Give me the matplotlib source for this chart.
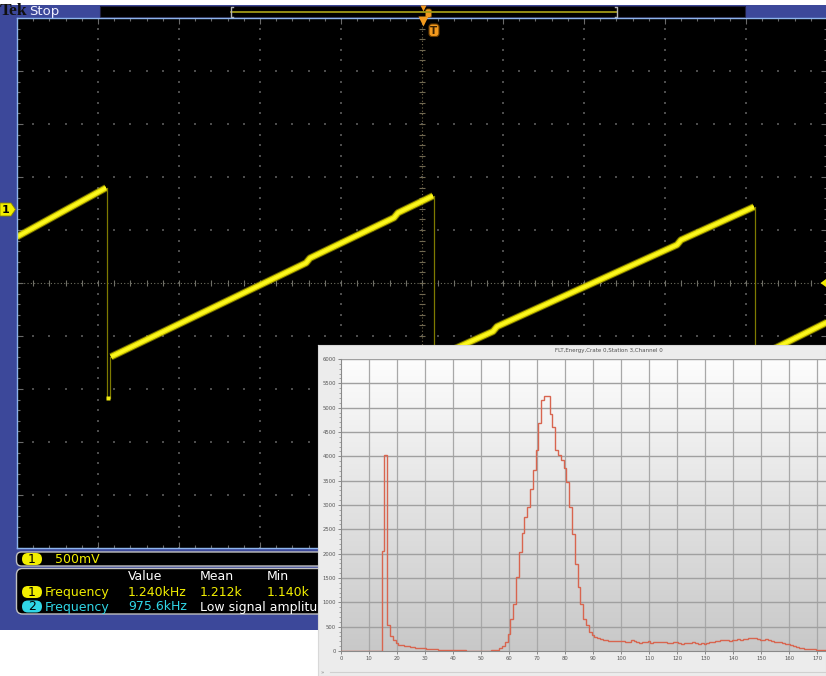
import numpy as np
import matplotlib
matplotlib.use("Agg")
import matplotlib.pyplot as plt
import matplotlib.patches as patches
from matplotlib.colors import LinearSegmentedColormap

# ---- scope trace: time in us (200 us/div), volts vs ch1 ground (500 mV/div)
ramp_t = [
    [0.0, 219.8],
    [232.1, 713.6, 723.5, 930.9, 940.7, 1027.2],
    [1037.0, 1175.3, 1185.2, 1629.6, 1639.5, 1819.7],
    [1829.6, 2000.0],
]
ramp_v = [
    [-0.264, 0.198],
    [-1.396, -0.511, -0.465, -0.084, -0.038, 0.122],
    [-1.396, -1.157, -1.111, -0.340, -0.294, 0.018],
    [-1.396, -1.071],
]
drop_t = [222.2, 1029.6, 1822.2]
drop_top = [0.198, 0.122, 0.018]
restart_t = [229.6, 1034.6, 1827.2]
drop_low = -1.783
restart_v = -1.396

# ---- measurement readout
meas_head = ["Value", "Mean", "Min"]
ch1_meas = ["1.240kHz", "1.212k", "1.140k"]
ch2_meas = ["975.6kHz", "Low signal amplitu"]
ch1_scale = "500mV"

# ---- inset histogram (counts per channel 0..173)
hist_title = "FLT,Energy,Crate 0,Station 3,Channel 0"
hist_counts = [
    2, 2, 2, 2, 2, 2, 2, 2, 2, 2, 2, 2, 2, 2, 3,
    2060, 4020, 540, 300, 235, 165,
    130, 115, 105, 95, 85, 75, 70, 65, 60, 55,
    50, 45, 38, 32, 28, 25, 22, 20, 18, 15,
    14, 13, 15, 12, 10, 10, 10, 10, 8, 8,
    8, 10, 10, 12, 18, 30, 55, 110, 190, 355,
    665, 975, 1520, 2035, 2425, 2755, 2960, 3335, 3725, 4125,
    4685, 5165, 5235, 5235, 4875, 4600, 4125, 4020, 3920, 3770,
    3470, 2960, 2400, 1795, 1315, 975, 665, 528, 390, 320,
    290, 265, 250, 235, 225, 215, 210, 215, 205, 210,
    215, 195, 190, 220, 200, 180, 170, 185, 175, 210,
    170, 180, 190, 175, 195, 185, 170, 160, 175, 180,
    165, 150, 160, 170, 165, 175, 160, 150, 155, 150,
    160, 175, 185, 200, 210, 220, 230, 225, 215, 230,
    220, 250, 235, 245, 255, 265, 270, 260, 245, 235,
    220, 250, 220, 205, 190, 180, 175, 165, 150, 135,
    115, 100, 85, 70, 60, 50, 45, 40, 35, 30,
    28, 25, 25,
]

W, H = 826, 676
BLUE = "#3c489a"
EDGE = "#8db4ec"
YEL = "#f2ee00"
CYAN = "#30d6e6"
ORANGE = "#f39a1e"

fig = plt.figure(figsize=(W / 100, H / 100), dpi=100, facecolor="white")

def px_axes(z):
    a = fig.add_axes([0, 0, 1, 1], zorder=z)
    a.set_xlim(0, W)
    a.set_ylim(H, 0)
    a.axis("off")
    return a

# background bezel, status bar, readouts
bg = px_axes(0)
bg.add_patch(patches.Rectangle((0, 5), W, 625, fc=BLUE, ec="none"))
bg.add_patch(patches.Rectangle((100, 5.5), 645, 11.5, fc="black", ec="#202040", lw=0.8))
bg.plot([231, 617], [11.5, 11.5], color="#a09818", lw=1.3)
for bx, d in [(231, 1), (617, -1)]:
    bg.plot([bx + 2 * d, bx, bx, bx + 2 * d], [6.5, 6.5, 16.5, 16.5], color="#b4b4b4", lw=1)
bg.plot([423], [7.5], marker="v", ms=5, color=ORANGE, mec="none")
bg.add_patch(patches.FancyBboxPatch((425.5, 9), 6, 8.5, boxstyle="round,pad=0,rounding_size=2",
                                    fc=ORANGE, ec="#7a4a00", lw=0.6))
bg.text(-0.5, 11, "Tek", family="Liberation Serif", weight="bold", fontsize=12.5,
        color="#101010", va="center", ha="left")
bg.text(29.5, 11.5, "Stop", fontsize=9.5, color="#f0f0ff", va="center", ha="left")

# ch1 ground marker
bg.add_patch(patches.Polygon([(0, 203), (11, 203), (15.5, 209.5), (11, 216), (0, 216)],
                             closed=True, fc=YEL, ec="#8a8600", lw=0.6))
bg.text(6, 209.8, "1", fontsize=8, weight="bold", color="black", ha="center", va="center")

# readout boxes
bg.add_patch(patches.FancyBboxPatch((16.5, 552), 340, 14, boxstyle="round,pad=0,rounding_size=5",
                                    fc="black", ec="#c0c0c0", lw=1))
bg.add_patch(patches.FancyBboxPatch((16.5, 568.5), 340, 45.5, boxstyle="round,pad=0,rounding_size=6",
                                    fc="black", ec="#c0c0c0", lw=1))

def badge(x, y, num, col):
    bg.add_patch(patches.FancyBboxPatch((x, y - 6), 20, 12, boxstyle="round,pad=0,rounding_size=6",
                                        fc=col, ec="none"))
    bg.text(x + 10, y + 0.5, num, fontsize=9, color="black", ha="center", va="center")

badge(22, 559, "1", YEL)
bg.text(55, 559.5, ch1_scale, fontsize=9, color=YEL, va="center")
for x, s in zip([128, 200, 267], meas_head):
    bg.text(x, 576.5, s, fontsize=9, color="white", va="center")
badge(22, 592, "1", YEL)
bg.text(45, 592.5, "Frequency", fontsize=9, color=YEL, va="center")
for x, s in zip([128, 200, 267], ch1_meas):
    bg.text(x, 592.5, s, fontsize=9, color=YEL, va="center")
badge(22, 606.5, "2", CYAN)
bg.text(45, 607, "Frequency", fontsize=9, color=CYAN, va="center")
bg.text(128, 607, ch2_meas[0], fontsize=9, color=CYAN, va="center")
clip = patches.Rectangle((0, 0), 318, H, transform=bg.transData)
low_txt = bg.text(200, 607, ch2_meas[1], fontsize=9, color="white", va="center")
low_txt.set_clip_path(clip)

# ---- scope graticule
sc = fig.add_axes([17 / W, 1 - 548 / H, 810 / W, 530 / H], zorder=1)
sc.set_facecolor("black")
sc.set_xlim(0, 2000)
sc.set_ylim(-3.2, 1.8)
xmaj = np.arange(0, 2001, 200)
ymaj = -3.2 + 0.5 * np.arange(11)
xmin = np.arange(0, 2001, 40)
ymin = -3.2 + 0.1 * np.arange(51)
sc.set_xticks(xmaj)
sc.set_xticks(xmin, minor=True)
sc.set_yticks(ymaj)
sc.set_yticks(ymin, minor=True)
sc.tick_params(which="both", direction="in", top=True, right=True, labelbottom=False,
               labelleft=False, color="#6a6a6a", width=0.8)
sc.tick_params(which="major", length=4)
sc.tick_params(which="minor", length=2.5)
for s in sc.spines.values():
    s.set_color(EDGE)
    s.set_linewidth(1)
for x in xmaj[1:-1]:
    if x == 1000:
        continue
    sc.scatter(np.full(len(ymin), x), ymin, s=0.8, marker="s", c="#4c4c4c", lw=0)
for y in ymaj[1:-1]:
    if abs(y + 0.7) < 1e-6:
        continue
    sc.scatter(xmin, np.full(len(xmin), y), s=0.8, marker="s", c="#4c4c4c", lw=0)
sc.axhline(-0.7, color="#6e6e60", lw=0.8, ls=(0, (1, 2)))
sc.axvline(1000, color="#6e6448", lw=0.8, ls=(0, (1, 2)))
sc.plot(xmin, np.full(len(xmin), -0.7), ls="none", marker="|", ms=4, mew=0.8, color="#707068")
sc.plot(np.full(len(ymin), 1000), ymin, ls="none", marker="_", ms=4, mew=0.8, color="#706850")

# trace
for t, v in zip(ramp_t, ramp_v):
    sc.plot(t, v, color="#b8b000", lw=5.4, solid_capstyle="butt", alpha=0.55)
    sc.plot(t, v, color="#e2da00", lw=4.0, solid_capstyle="butt")
    sc.plot(t, v, color="#fcf820", lw=2.2, solid_capstyle="butt")
for td, top, tr in zip(drop_t, drop_top, restart_t):
    sc.plot([td, td], [top, drop_low], color="#7e7a00", lw=0.9)
    sc.plot([tr, tr], [drop_low, restart_v], color="#7e7a00", lw=0.9)
    sc.plot([(td + tr) / 2], [drop_low], marker="s", ms=3, color="#f4ee10", mec="none")

# overlay markers on graticule
fg = px_axes(3)
fg.plot([423], [21], marker="v", ms=7, color=ORANGE, mec="none")
fg.add_patch(patches.FancyBboxPatch((429, 24), 10, 12.5, boxstyle="round,pad=0,rounding_size=3",
                                    fc=ORANGE, ec="#6a3c00", lw=0.8))
fg.text(434, 30.5, "T", fontsize=7.5, weight="bold", color="#3a2000", ha="center", va="center")
fg.add_patch(patches.Polygon([(820.5, 283), (826, 279), (826, 287)], closed=True, fc=YEL, ec="none"))

# ---- inset histogram panel
pn = fig.add_axes([318 / W, 0, (W - 318) / W, (H - 345) / H], zorder=5)
pn.set_xlim(318, W)
pn.set_ylim(H, 345)
pn.set_facecolor("#ececec")
pn.set_xticks([])
pn.set_yticks([])
for s in pn.spines.values():
    s.set_color("#d8d8d8")
    s.set_linewidth(0.8)
pn.plot([330, W], [671.5, 671.5], color="#d0d0d0", lw=0.8)
pn.text(321, 673, "\u00bb", fontsize=4, color="#888888", va="center")
pn.text(609, 350.5, hist_title, fontsize=4, color="#505050", ha="center", va="center")

hx = fig.add_axes([341 / W, 1 - 651 / H, (W - 341) / W, (651 - 359) / H], zorder=6)
xmax = (W - 341) / 2.8
hx.set_xlim(0, xmax)
hx.set_ylim(0, 6000)
grad = LinearSegmentedColormap.from_list("g", ["#c8c8c8", "#fdfdfd"])
hx.imshow(np.linspace(1, 0, 256).reshape(-1, 1), cmap=grad, extent=[0, xmax, 0, 6000],
          aspect="auto", zorder=0)
for x in range(10, 171, 10):
    hx.axvline(x, color="#a8a8a8", lw=0.9, zorder=1)
for y in range(500, 6001, 500):
    hx.axhline(y, color="#a0a0a0", lw=1.0, zorder=1)
edges = np.arange(len(hist_counts) + 1) - 0.5
hx.stairs(hist_counts, edges, baseline=None, color="#d8654f", lw=1.0, zorder=3)
hx.set_xticks(np.arange(0, 171, 10))
hx.set_yticks(np.arange(0, 6001, 500))
hx.set_yticks(np.arange(0, 6001, 100), minor=True)
hx.tick_params(labelsize=3.8, labelcolor="#555555", color="#777777", length=2, width=0.6, pad=1.5)
hx.tick_params(which="minor", length=1.2, width=0.5, color="#888888")
for k in ["top", "right"]:
    hx.spines[k].set_visible(False)
hx.spines["left"].set_color("#8a8a8a")
hx.spines["bottom"].set_color("#8a8a8a")
hx.spines["left"].set_linewidth(0.8)
hx.spines["bottom"].set_linewidth(0.8)

fig.savefig("out.png", dpi=100, facecolor="white")
